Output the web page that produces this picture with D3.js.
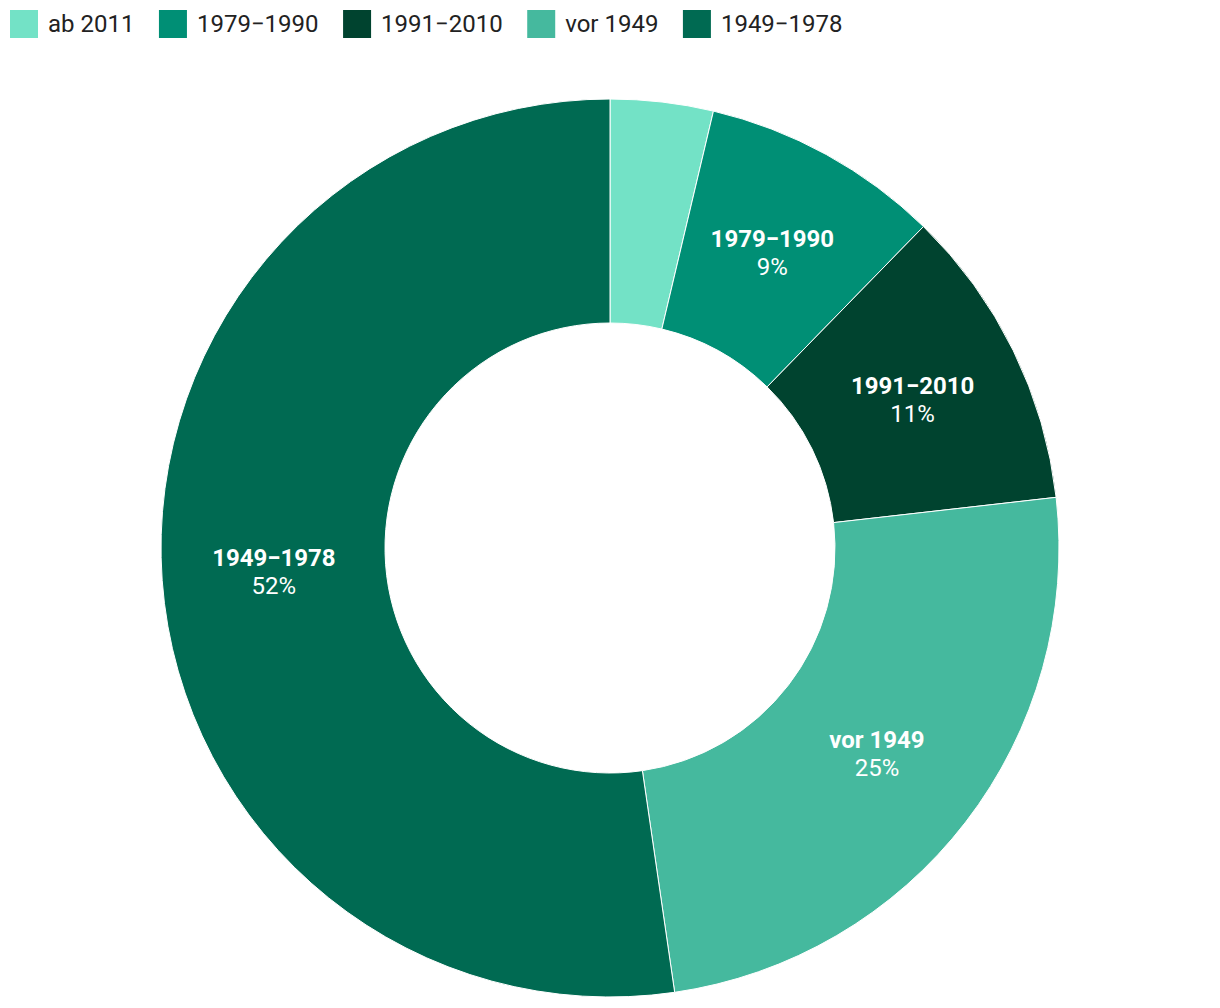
<!DOCTYPE html>
<html><head><meta charset="utf-8">
<script src="https://cdn.jsdelivr.net/npm/d3@7"></script>
<style>body{margin:0;background:#fff;font-family:Roboto,"Noto Sans",sans-serif;}</style>
</head><body>
<svg id="chart" width="1220" height="1008"></svg>
<script>
const categories = ["ab 2011", "1979−1990", "1991−2010", "vor 1949", "1949−1978"];
const values = [3.7, 8.6, 10.9, 24.5, 52.3];
const percentLabels = ["", "9%", "11%", "25%", "52%"];
const colors = ["#73e2c6", "#008f75", "#00432f", "#45b99e", "#006a52"];
const showLabel = [false, true, true, true, true];

const svg = d3.select("#chart");
const cx = 610, cy = 548, R = 449, r = 225;
const data = categories.map((c, i) => ({cat: c, value: values[i], pct: percentLabels[i], color: colors[i], show: showLabel[i]}));
const pie = d3.pie().sort(null).value(d => d.value);
const arc = d3.arc().innerRadius(r).outerRadius(R);
const g = svg.append("g").attr("transform", `translate(${cx},${cy})`);
const arcs = pie(data);
g.selectAll("path").data(arcs).join("path")
  .attr("d", arc).attr("fill", d => d.data.color)
  .attr("stroke", "#fff").attr("stroke-width", 1);

const lab = g.selectAll("g.lab").data(arcs.filter(d => d.data.show)).join("g")
  .attr("class", "lab")
  .attr("transform", d => `translate(${arc.centroid(d)})`);
lab.append("text").attr("text-anchor", "middle").attr("y", -6)
  .attr("fill", "#fff").style("font-size", "24px").style("font-weight", "700")
  .text(d => d.data.cat);
lab.append("text").attr("text-anchor", "middle").attr("y", 22)
  .attr("fill", "#fff").style("font-size", "24px")
  .text(d => d.data.pct);

// legend
const leg = svg.append("g");
let x = 10;
data.forEach(d => {
  leg.append("rect").attr("x", x).attr("y", 10).attr("width", 28).attr("height", 28).attr("fill", d.color);
  const t = leg.append("text").attr("x", x + 38).attr("y", 32).attr("fill", "#222")
    .style("font-size", "24px").text(d.cat);
  const w = t.node().getComputedTextLength();
  x = x + 38 + w + 24.5;
});
</script>
</body></html>
